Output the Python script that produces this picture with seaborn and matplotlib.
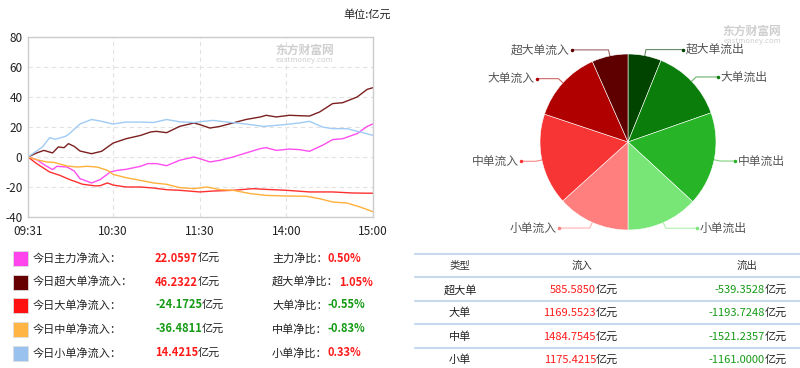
import numpy as np
import pandas as pd
import matplotlib.pyplot as plt
import seaborn as sns
from matplotlib.patches import Rectangle

plt.switch_backend("agg")

sns.set_style("white")
plt.rcParams["font.family"] = ["Noto Sans CJK SC", "DejaVu Sans"]
plt.rcParams["axes.unicode_minus"] = False

# minute index of the trading day: 0 = 09:31, 239 = 15:00
tick_pos = [0, 59, 119, 179, 239]
tick_labels = ["09:31", "10:30", "11:30", "14:00", "15:00"]

# net inflow curves (亿元)
main_idx = [0, 6, 12, 17, 20, 27, 32, 36, 44, 50, 57, 62, 68, 78, 83, 89, 96, 105, 115, 119,
            126, 133, 142, 151, 161, 165, 172, 181, 188, 195, 204, 211, 218, 228, 235, 239]
main_val = [0, -1.8, -5.6, -8.4, -6.2, -6.7, -9.3, -14.4, -17.3, -15.1, -10, -8.9, -8.2, -6.2,
            -4.4, -4.4, -5.8, -2.2, 0, -1.1, -3.3, -2.2, 0, 2.7, 5.6, 6.2, 4.4, 5.3, 4.9, 3.8,
            7.8, 11.6, 12.2, 15.6, 20.4, 22.06]

xl_idx = [0, 6, 11, 17, 21, 25, 28, 32, 36, 44, 51, 59, 68, 78, 85, 89, 96, 105, 115, 119,
          126, 133, 142, 151, 161, 165, 172, 181, 195, 202, 211, 218, 228, 235, 239]
xl_val = [0, 2.7, 4.4, 2.7, 6.7, 6.2, 8.9, 7.1, 4, 2.2, 3.8, 9.3, 12.2, 14.4, 16.7, 17.1, 16.2,
          20.4, 22.7, 21.6, 19.3, 20.4, 22.7, 25, 26.7, 27.8, 26.7, 27.8, 27.3, 30, 35.6, 36.2,
          40, 45.1, 46.23]

lg_idx = [0, 6, 15, 22, 29, 38, 47, 50, 55, 59, 68, 78, 87, 96, 105, 119, 128, 142, 156, 165,
          179, 195, 211, 225, 239]
lg_val = [0, -4.4, -10, -12.2, -15.1, -18.2, -19.3, -19.1, -17.3, -18.7, -20, -20, -20.7, -21.8,
          -22.2, -23.3, -22.7, -22.2, -21.1, -21.6, -22.2, -23.3, -23.3, -24, -24.17]

md_idx = [0, 6, 13, 18, 27, 34, 41, 48, 55, 59, 68, 78, 87, 96, 105, 115, 124, 133, 142, 154,
          165, 179, 193, 202, 211, 221, 230, 239]
md_val = [0, -1.8, -3.3, -3.6, -6, -6.7, -6.2, -6.7, -8.9, -11.6, -13.8, -15.6, -17.3, -18.2,
          -20.4, -21.1, -20, -21.8, -22.2, -24.4, -25.6, -26, -26.2, -27.8, -30, -30.7, -33.3,
          -36.48]

sm_idx = [0, 10, 15, 19, 26, 28, 36, 44, 50, 59, 68, 78, 87, 96, 105, 115, 119, 128, 138, 151,
          163, 177, 188, 195, 204, 211, 221, 230, 239]
sm_val = [0, 6.7, 12.9, 11.8, 13.8, 15, 22, 25, 24, 22, 23.3, 23.3, 23, 25, 23.5, 23, 23.5, 24.4,
          23.3, 22, 20.4, 21.5, 22.7, 23.8, 20, 18.9, 18.9, 16.7, 14.42]

# summary rows
flow_names = ["今日主力净流入：", "今日超大单净流入：", "今日大单净流入：", "今日中单净流入：", "今日小单净流入："]
flow_values = [22.0597, 46.2322, -24.1725, -36.4811, 14.4215]
ratio_names = ["主力净比：", "超大单净比：", "大单净比：", "中单净比：", "小单净比："]
ratio_values = [0.50, 1.05, -0.55, -0.83, 0.33]

# inflow / outflow per order size
type_names = ["超大单", "大单", "中单", "小单"]
inflow = [585.5850, 1169.5523, 1484.7545, 1175.4215]
outflow = [-539.3528, -1193.7248, -1521.2357, -1161.0000]

line_colors = ["#ff4df0", "#7b1f1f", "#ff3030", "#ffb03a", "#9fcbf5"]
box_colors = ["#ff44ee", "#660000", "#ff1111", "#ffb444", "#99c2ee"]
red = "#ff1a1a"
green = "#149a14"

W, H = 800, 368
fig = plt.figure(figsize=(8, 3.68), dpi=100)

# ---- line chart ----
ax = fig.add_axes([28 / W, 1 - 217 / H, 345 / W, 180 / H])
series = [(main_idx, main_val), (xl_idx, xl_val), (lg_idx, lg_val), (md_idx, md_val), (sm_idx, sm_val)]
for (xi, yv), c in zip(series, line_colors):
    sns.lineplot(x=xi, y=yv, ax=ax, color=c, linewidth=1.0)
ax.set_xlim(0, 239)
ax.set_ylim(-40, 80)
ax.set_yticks([-40, -20, 0, 20, 40, 60, 80])
ax.set_xticks(tick_pos)
ax.set_xticklabels(tick_labels)
ax.grid(True, linestyle=(0, (4, 3)), color="#e2e2e2", linewidth=0.8)
for s in ax.spines.values():
    s.set_color("#cccccc")
    s.set_linewidth(1)
ax.tick_params(length=0, labelsize=8.5, colors="#222222", pad=4)
ax.tick_params(axis="x", pad=6)

# ---- pie ----
pax = fig.add_axes([540 / W, 1 - 230 / H, 176 / W, 176 / H])
pie_names = ["超大单流出", "大单流出", "中单流出", "小单流出", "小单流入", "中单流入", "大单流入", "超大单流入"]
pie_vals = [abs(v) for v in outflow] + inflow[::-1]
pie_colors = ["#004400", "#0b7d0b", "#27b427", "#77e677", "#ff7f7f", "#f73535", "#b00000", "#5f0000"]
wedges, _ = pax.pie(pie_vals, colors=pie_colors, startangle=90, counterclock=False,
                    wedgeprops=dict(edgecolor="white", linewidth=0.4))
pax.set_xlim(-1, 1)
pax.set_ylim(-1, 1)
for w, name, c in zip(wedges, pie_names, pie_colors):
    th = np.deg2rad((w.theta1 + w.theta2) / 2)
    cx, cy = np.cos(th), np.sin(th)
    sgn = 1 if cx >= 0 else -1
    ty = cy * 1.07
    tx = sgn * (abs(cx) * 0.75 + 0.5)
    bx = cx * 1.07
    pax.plot([cx, bx, tx - sgn * 0.02], [cy, ty, ty], color=c, alpha=0.6, lw=0.8, clip_on=False)
    pax.plot([tx - sgn * 0.02], [ty], "o", color=c, ms=1.5, clip_on=False)
    pax.text(tx + sgn * 0.01, ty, name, ha="left" if sgn > 0 else "right", va="center",
             fontsize=8.5, color="#555555", clip_on=False)

# ---- overlay for texts / tables ----
ov = fig.add_axes([0, 0, 1, 1])
ov.set_xlim(0, W)
ov.set_ylim(H, 0)
ov.axis("off")

ov.text(367, 14, "单位:亿元", ha="center", va="center", fontsize=8, color="#222222")

# watermarks
for (x0, y0) in [(305, 50), (752, 31)]:
    ov.text(x0, y0, "东方财富网", ha="center", va="center", fontsize=8.5, color="#cfcfcf", weight="bold")
    ov.text(x0, y0 + 10, "eastmoney.com", ha="center", va="center", fontsize=5.5, color="#cfcfcf")

rows_y = [258, 282, 305, 329, 353]
for y, name, v, rn, rv, bc in zip(rows_y, flow_names, flow_values, ratio_names, ratio_values, box_colors):
    ov.add_patch(Rectangle((13, y - 7.5), 15, 15, facecolor=bc, edgecolor="#dddddd", lw=0.6))
    ov.text(33, y, name, va="center", fontsize=8, color="#222222")
    t = ov.text(155, y, f"{v:.4f}", va="center", fontsize=8, weight="bold",
                color=red if v >= 0 else green)
    ov.annotate("亿元", xy=(1, 0.5), xycoords=t, va="center", ha="left", fontsize=8, color="#222222")
    t2 = ov.text(272, y, rn, va="center", fontsize=8, color="#222222")
    ov.annotate(f"{rv:.2f}%", xy=(1, 0.5), xycoords=t2, va="center", ha="left", fontsize=8,
                weight="bold", color=red if rv >= 0 else green)

for y in [254, 277, 301, 324, 348]:
    ov.plot([415, W], [y, y], color="#c6d9ec", lw=1.5)
ov.text(460, 265.5, "类型", ha="center", va="center", fontsize=7.5, color="#333333")
ov.text(582, 265.5, "流入", ha="center", va="center", fontsize=7.5, color="#333333")
ov.text(747, 265.5, "流出", ha="center", va="center", fontsize=7.5, color="#333333")
for y, tn, vi, vo in zip([290, 313, 337, 360], type_names, inflow, outflow):
    ov.text(460, y, tn, ha="center", va="center", fontsize=8, color="#222222")
    ov.text(596, y, f"{vi:.4f}", ha="right", va="center", fontsize=8, color=red)
    ov.text(596, y, "亿元", ha="left", va="center", fontsize=8, color="#222222")
    ov.text(765, y, f"{vo:.4f}", ha="right", va="center", fontsize=8, color=green)
    ov.text(765, y, "亿元", ha="left", va="center", fontsize=8, color="#222222")

fig.savefig("out.png", dpi=100)
